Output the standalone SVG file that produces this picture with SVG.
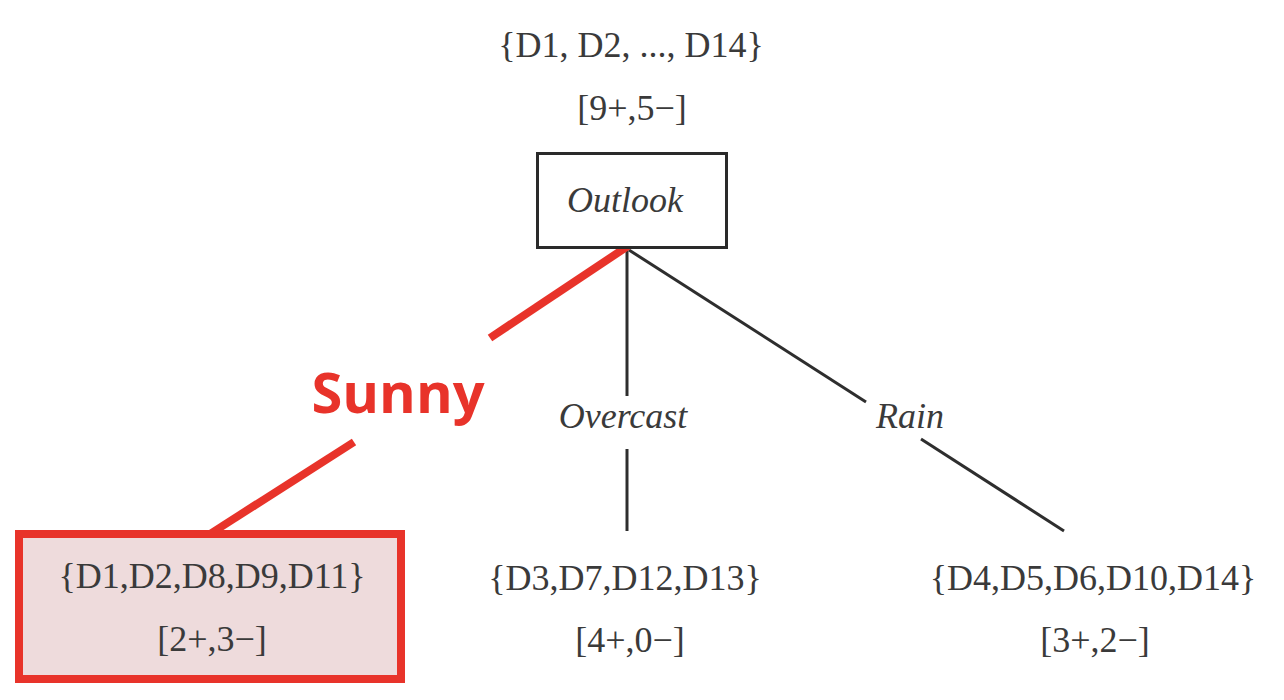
<svg xmlns="http://www.w3.org/2000/svg" width="1284" height="700" viewBox="0 0 1284 700">
<style>
.t{font-family:"Liberation Serif","Times New Roman",serif;font-size:36px;fill:#3a3a3a;text-anchor:middle}
.i{font-style:italic}
.ln{stroke:#2e2e2e;stroke-width:3;fill:none}
.red{stroke:#e8332a;stroke-width:8;fill:none}
.sunny{font-family:"Open Sans","Noto Sans",sans-serif;font-weight:bold;font-size:56px;fill:#e8332a;text-anchor:middle}
</style>
<rect width="1284" height="700" fill="#ffffff"/>
<g id="connectors">
<line class="ln" x1="627" y1="249" x2="627" y2="396"/>
<line class="ln" x1="627" y1="449" x2="627" y2="531"/>
<line class="ln" x1="629" y1="250" x2="866" y2="402"/>
<line class="ln" x1="921" y1="439" x2="1064" y2="531"/>
<line class="red" x1="634" y1="242" x2="490" y2="338"/>
<line class="red" x1="354" y1="442" x2="210" y2="534"/>
<text class="t i" x="623" y="428">Overcast</text>
<text class="t i" x="910" y="428">Rain</text>
<text class="sunny" x="398" y="413">Sunny</text>
</g>
<g id="root">
<text class="t" x="631" y="57">{D1, D2, ..., D14}</text>
<text class="t" x="632" y="120">[9+,5−]</text>
<rect x="537.5" y="153.5" width="189" height="94" fill="#ffffff" stroke="#2a2a2a" stroke-width="3"/>
<text class="t i" x="625" y="212">Outlook</text>
</g>
<g id="sunny-node">
<rect x="19" y="534" width="382" height="145" fill="#eedbdc" stroke="#e8332a" stroke-width="8"/>
<text class="t" x="212" y="588">{D1,D2,D8,D9,D11}</text>
<text class="t" x="212" y="651">[2+,3−]</text>
</g>
<g id="overcast-node">
<text class="t" x="625" y="590">{D3,D7,D12,D13}</text>
<text class="t" x="630" y="652">[4+,0−]</text>
</g>
<g id="rain-node">
<text class="t" x="1093" y="590">{D4,D5,D6,D10,D14}</text>
<text class="t" x="1095" y="652">[3+,2−]</text>
</g>
</svg>
